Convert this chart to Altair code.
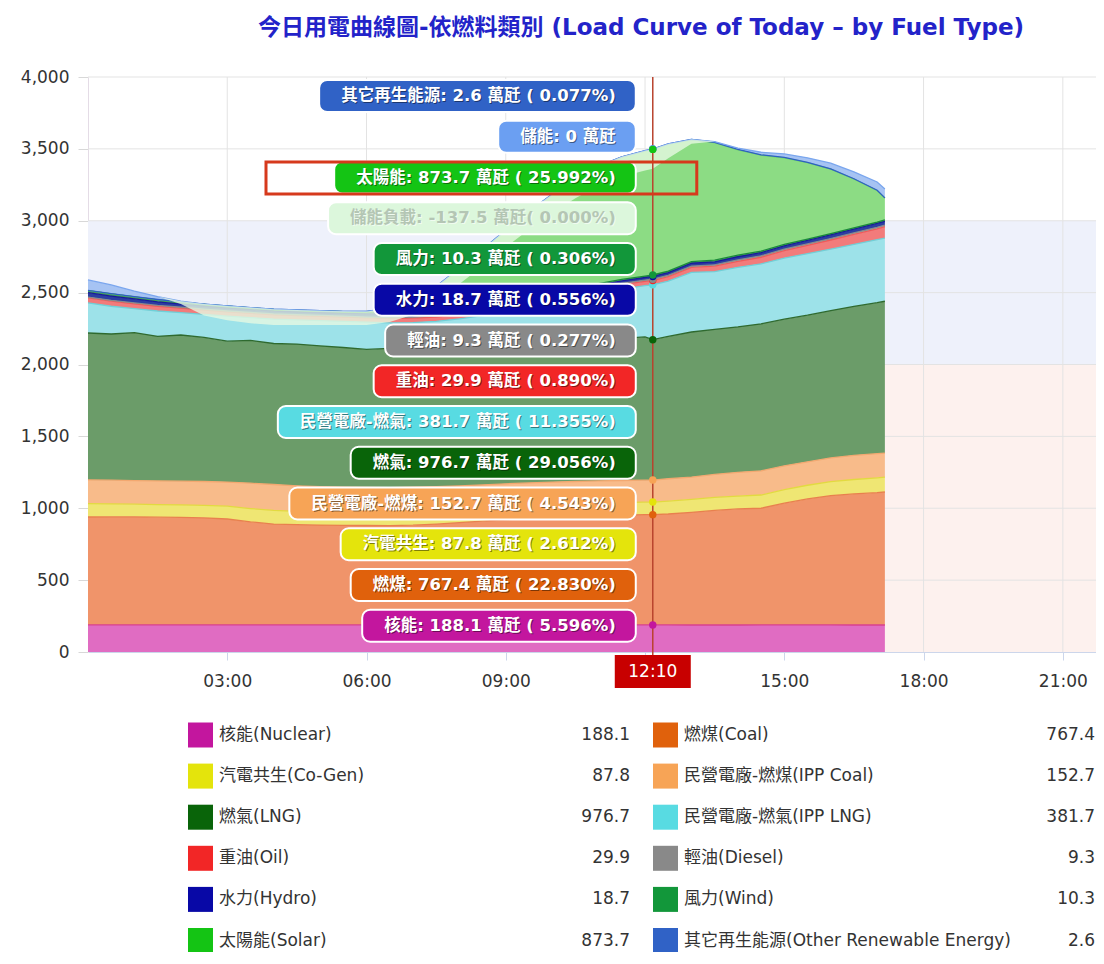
import altair as alt
import pandas as pd

# ---------------- data (萬瓩) ----------------
times = ["00:00", "00:30", "01:00", "01:30", "02:00", "02:30", "03:00", "03:30", "04:00", "04:30",
         "05:00", "05:30", "06:00", "06:30", "07:00", "07:30", "08:00", "08:30", "09:00", "09:30",
         "10:00", "10:30", "11:00", "11:30", "12:00", "12:10", "12:30", "13:00", "13:30", "14:00",
         "14:30", "15:00", "15:30", "16:00", "16:30", "17:00", "17:10"]
now_time = "12:10"

nuclear = [188.3, 188.3, 188.2, 188.2, 188.2, 188.2, 188.2, 188.1, 188.1, 188.1,
           188.1, 188.1, 188.1, 188.0, 188.0, 188.1, 188.1, 188.1, 188.1, 188.0,
           188.0, 188.1, 188.1, 188.1, 188.1, 188.1, 188.1, 188.0, 188.0, 188.0,
           188.1, 188.1, 188.1, 188.1, 188.0, 188.0, 188.0]
coal = [751, 752, 752, 750, 748, 745, 737, 717, 702, 698,
        695, 693, 692, 691, 694, 702, 712, 722, 732, 742,
        750, 756, 760, 764, 767, 767.4, 772, 784, 797, 807,
        812, 847, 877, 900, 912, 920, 925]
cogen = [93, 90, 88, 87, 87, 87, 89, 93, 95, 92,
         92, 91, 90, 91, 92, 92, 90, 90, 90, 88,
         87, 87, 88, 88, 87, 87.8, 90, 90, 90, 90,
         92, 95, 95, 97, 100, 104, 104]
ipp_coal = [165, 165, 164, 165, 165, 166, 168, 176, 180, 178,
            175, 175, 175, 174, 172, 168, 165, 162, 160, 158,
            157, 155, 154, 153, 153, 152.7, 155, 155, 160, 165,
            168, 165, 163, 165, 168, 168, 167]
lng = [1022, 1017, 1030, 1006, 1017, 1002, 980, 994, 981, 986,
       980, 971, 960, 968, 974, 980, 985, 988, 988, 989,
       988, 986, 986, 989, 997, 976.7, 990, 1009, 1010, 1012,
       1023, 1020, 1020, 1025, 1037, 1050, 1056]
ipp_lng = [209, 193, 166, 176, 155, 160, 174, 158, 170, 168,
           175, 182, 189, 178, 172, 170, 178, 190, 207, 230,
           255, 288, 319, 343, 356, 381.7, 385, 415, 401, 414,
           417, 425, 428, 427, 430, 438, 439]
oil = [35, 35, 34, 33, 32, 31, 30, 30, 30, 30,
       30, 30, 30, 30, 30, 30, 30, 30, 30, 30,
       30, 30, 30, 30, 30, 29.9, 31, 34, 38, 42,
       46, 52, 58, 64, 70, 76, 80]
diesel = [6, 6, 6, 6, 6, 6, 6, 6, 6, 6,
          6, 6, 6, 7, 8, 9, 9, 9, 9, 9,
          9, 9, 9, 9, 9, 9.3, 9.3, 9.3, 9.5, 9.5,
          9.6, 9.8, 10, 10, 10.2, 10.5, 10.5]
hydro = [30, 30, 28, 25, 22, 20, 20, 19, 19, 19,
         19, 20, 22, 24, 22, 20, 19, 18, 18, 18,
         18, 18, 18, 18, 18, 18.7, 19, 20, 21, 22,
         22, 23, 24, 25, 26, 27, 27]
wind = [15, 15, 14, 14, 13, 13, 13, 13, 12, 12,
        12, 12, 12, 12, 11, 11, 11, 11, 11, 10,
        10, 10, 10, 10, 10, 10.3, 10.5, 11, 11, 10.8,
        10.5, 10, 9.8, 9.5, 9.2, 9, 9]
solar = [0, 0, 0, 0, 0, 0, 0, 0, 0, 0,
         0, 0, 3, 25, 80, 170, 280, 390, 500, 600,
         690, 760, 815, 850, 870, 873.7, 882, 848, 818, 733,
         668, 603, 531, 448, 340, 220, 152]
other = [2.0, 2.0, 2.0, 2.0, 2.0, 2.0, 2.0, 2.0, 2.0, 2.0,
         2.0, 2.0, 2.1, 2.2, 2.3, 2.4, 2.5, 2.5, 2.5, 2.6,
         2.6, 2.6, 2.6, 2.6, 2.6, 2.6, 2.6, 2.5, 2.5, 2.4,
         2.4, 2.3, 2.2, 2.0, 1.8, 1.5, 1.5]
storage = [72, 60, 38, 20, 5, 0, 0, 0, 0, 0,
           0, 0, 0, 0, 0, 0, 0, 0, 0, 0,
           0, 0, 0, 0, 0, 0, 0, 0, 5, 10,
           18, 25, 32, 40, 48, 58, 62]
storage_load = [0, 0, 0, 0, -20, -80, -100, -110, -110, -105,
                -100, -95, -95, -95, -100, -105, -110, -115, -120, -125,
                -130, -133, -135, -137, -138, -137.5, -100, -30, 0, 0,
                0, 0, 0, 0, 0, 0, 0]

stack_keys = ["nuclear", "coal", "cogen", "ipp_coal", "lng", "ipp_lng", "oil", "diesel",
              "hydro", "wind", "solar", "other", "storage"]
series = {"nuclear": nuclear, "coal": coal, "cogen": cogen, "ipp_coal": ipp_coal, "lng": lng,
          "ipp_lng": ipp_lng, "oil": oil, "diesel": diesel, "hydro": hydro, "wind": wind,
          "solar": solar, "other": other, "storage": storage}

legend_keys = ["nuclear", "coal", "cogen", "ipp_coal", "lng", "ipp_lng", "oil", "diesel",
               "hydro", "wind", "solar", "other"]
legend_names = ["核能(Nuclear)", "燃煤(Coal)", "汽電共生(Co-Gen)", "民營電廠-燃煤(IPP Coal)",
                "燃氣(LNG)", "民營電廠-燃氣(IPP LNG)", "重油(Oil)", "輕油(Diesel)",
                "水力(Hydro)", "風力(Wind)", "太陽能(Solar)", "其它再生能源(Other Renewable Energy)"]

tip_keys = ["other", "storage", "solar", "load", "wind", "hydro", "diesel", "oil",
            "ipp_lng", "lng", "ipp_coal", "cogen", "coal", "nuclear"]
tip_names = {"other": "其它再生能源", "storage": "儲能", "solar": "太陽能", "load": "儲能負載",
             "wind": "風力", "hydro": "水力", "diesel": "輕油", "oil": "重油",
             "ipp_lng": "民營電廠-燃氣", "lng": "燃氣", "ipp_coal": "民營電廠-燃煤",
             "cogen": "汽電共生", "coal": "燃煤", "nuclear": "核能"}

title_text = "今日用電曲線圖-依燃料類別 (Load Curve of Today – by Fuel Type)"

# ---------------- styles ----------------
fill_colors = {"nuclear": "#e06cc2", "coal": "#f0946a", "cogen": "#efe673", "ipp_coal": "#f8bb8a",
               "lng": "#6b9c69", "ipp_lng": "#9de2e9", "oil": "#f27b7b", "diesel": "#a5a5a5",
               "hydro": "#2c3ea2", "wind": "#3f9b58", "solar": "#8cdc84", "other": "#4f78cd",
               "storage": "#a6c3f3"}
line_colors = {"nuclear": "#d8408e", "coal": "#e8804e", "cogen": "#e2da40", "ipp_coal": "#f3a870",
               "lng": "#2f6a2f", "ipp_lng": "#6fd0d8", "oil": "#ee5a5a", "diesel": "#8a8a8a",
               "hydro": "#1a1a9a", "wind": "#1a8a3a", "solar": "#6cd06a", "other": "#2f5fc4",
               "storage": "#7aa6ee"}
solid_colors = {"nuclear": "#c3169e", "coal": "#e0610c", "cogen": "#e4e40c", "ipp_coal": "#f7a456",
                "lng": "#096409", "ipp_lng": "#58dbe2", "oil": "#f22626", "diesel": "#898989",
                "hydro": "#0808a6", "wind": "#12973a", "solar": "#14c414", "other": "#3062c6",
                "storage": "#6b9ff2", "load": "#dcf7dc"}

FONT = "DejaVu Sans, Noto Sans CJK TC, sans-serif"
W, H = 1008, 575
YMAX = 4000
PXH = 46.42            # pixels per hour
XMAX = W / PXH
PYV = H / YMAX


def hours(s):
    h, m = s.split(":")
    return int(h) + int(m) / 60.0


def tx(px):
    return px / PXH


def vy(py):
    return YMAX - py / PYV


def fmt(v):
    return f"{v:g}"


def est_w(s, size):
    w = 0.0
    for ch in s:
        if ord(ch) > 0x2E80:
            w += size * 1.0
        elif ch.isdigit():
            w += size * 0.696
        elif ch == " ":
            w += size * 0.348
        elif ch == ".":
            w += size * 0.38
        elif ch == ":":
            w += size * 0.40
        elif ch in "()":
            w += size * 0.457
        elif ch == "%":
            w += size * 1.002
        elif ch == "-":
            w += size * 0.415
        else:
            w += size * 0.65
    return w


hrs = [hours(t) for t in times]
inow = times.index(now_time)
t_now = hrs[inow]
x_now = t_now * PXH

xs = alt.Scale(domain=[0, XMAX], nice=False, zero=False)
ys = alt.Scale(domain=[0, YMAX], nice=False, zero=False)

xaxis = alt.Axis(values=[3, 6, 9, 12, 15, 18, 21],
                 labelExpr="datum.value == 12 ? '' : ((datum.value < 10 ? '0' : '') + datum.value + ':00')",
                 grid=False, tickSize=8, tickColor="#ccd6eb", domainColor="#ccd6eb",
                 labelFontSize=17, labelFont="DejaVu Sans", labelColor="#333333",
                 labelPadding=13, title=None)
yaxis = alt.Axis(values=list(range(0, 4001, 500)), format=",.0f", grid=False, tickSize=10,
                 tickColor="#d8d8d8", domainColor="#e4dce6", labelFontSize=17,
                 labelFont="DejaVu Sans", labelColor="#333333", labelPadding=9, title=None)

# ---------------- tables ----------------
rows = []
cum = [0.0] * len(times)
tops_now = {}
for k, key in enumerate(stack_keys):
    vals = series[key]
    for i, t in enumerate(hrs):
        lo = cum[i]
        hi = lo + vals[i]
        rows.append(dict(t=t, key=key, k=k, lo=lo, hi=hi,
                         fill=fill_colors[key], line=line_colors[key]))
        cum[i] = hi
    tops_now[key] = cum[inow]
area_df = pd.DataFrame(rows)
overlay_df = pd.DataFrame({"t": hrs, "hi": cum,
                           "lo": [c + l for c, l in zip(cum, storage_load)]})

dot_keys = ["nuclear", "coal", "cogen", "ipp_coal", "lng", "ipp_lng", "oil", "diesel",
            "hydro", "wind", "other", "storage", "solar"]
dot_df = pd.DataFrame([dict(t=t_now, v=tops_now[k], c=solid_colors[k]) for k in dot_keys])

net = sum(series[k][inow] for k in stack_keys) + storage_load[inow]
TIP = 16.5
tip_rows = []
for i, key in enumerate(tip_keys):
    v = storage_load[inow] if key == "load" else series[key][inow]
    name = tip_names[key]
    if key == "storage":
        label = f"{name}: {fmt(v)} 萬瓩"
    elif key == "load":
        label = f"{name}: {fmt(v)} 萬瓩( {max(v, 0) / net * 100:.3f}%)"
    else:
        label = f"{name}: {fmt(v)} 萬瓩 ( {v / net * 100:.3f}%)"
    yc = 19 + 40.75 * i
    right = x_now - 17
    left = right - est_w(label, TIP) - 42
    tip_rows.append(dict(x1=tx(left), x2=tx(right), y1=vy(yc - 16), y2=vy(yc + 16),
                         xt=tx(right - 20), yt=vy(yc), xs_=tx(right - 19), ys_=vy(yc + 1),
                         label=label, c=solid_colors[key],
                         tc="#b4c6b4" if key == "load" else "#ffffff",
                         sc="rgba(255,255,255,0.6)" if key == "load" else "rgba(0,0,0,0.45)"))
tip_df = pd.DataFrame(tip_rows)

leg_rows = []
for idx, (key, name) in enumerate(zip(legend_keys, legend_names)):
    r, c = divmod(idx, 2)
    yc = 658 + 41.1 * r
    x0 = [100, 565][c]
    leg_rows.append(dict(sx1=tx(x0), sx2=tx(x0 + 25), sy1=vy(yc - 12.5), sy2=vy(yc + 12.5),
                         xt=tx(x0 + 31), xv=tx(x0 + 442), yt=vy(yc), name=name,
                         val=fmt(series[key][inow]), c=solid_colors[key]))
leg_df = pd.DataFrame(leg_rows)

band_df = pd.DataFrame({"y1": [2000, 0], "y2": [3000, 2000], "c": ["#eef1fb", "#fdf1ee"]})
hgrid_df = pd.DataFrame({"v": list(range(500, 4001, 500))})
vgrid_df = pd.DataFrame({"t": [3, 6, 9, 12, 15, 18, 21]})

# ---------------- layers ----------------
X = lambda f: alt.X(f, scale=xs, axis=xaxis)
Y = lambda f: alt.Y(f, scale=ys, axis=yaxis, stack=None)

bands = alt.Chart(band_df).mark_rect().encode(
    x=alt.value(0), x2=alt.value(W), y=Y("y1:Q"), y2="y2:Q",
    color=alt.Color("c:N", scale=None))
hgrid = alt.Chart(hgrid_df).mark_rule(color="#e3e3e3", strokeWidth=1).encode(
    y=Y("v:Q"), x=alt.value(0), x2=alt.value(W))
vgrid = alt.Chart(vgrid_df).mark_rule(color="#e3e3e3", strokeWidth=1).encode(
    x=X("t:Q"), y=alt.value(0), y2=alt.value(H))

areas = alt.Chart(area_df).mark_area(opacity=1).encode(
    x=X("t:Q"), y=Y("hi:Q"), y2="lo:Q",
    color=alt.Color("fill:N", scale=None), detail="key:N")
lines = alt.Chart(area_df).mark_line(strokeWidth=1.3).encode(
    x=X("t:Q"), y=Y("hi:Q"),
    color=alt.Color("line:N", scale=None), detail="key:N")
overlay = alt.Chart(overlay_df).mark_area(color="#e6f9e2", opacity=0.8).encode(
    x=X("t:Q"), y=Y("hi:Q"), y2="lo:Q")

now_rule = alt.Chart(pd.DataFrame({"t": [t_now]})).mark_rule(
    color="#b9432e", strokeWidth=1.5).encode(x=X("t:Q"), y=alt.value(0), y2=alt.value(H + 10))
dots = alt.Chart(dot_df).mark_circle(size=55, opacity=1).encode(
    x=X("t:Q"), y=Y("v:Q"), color=alt.Color("c:N", scale=None))

tip_box = alt.Chart(tip_df).mark_rect(cornerRadius=8, stroke="white", strokeWidth=2).encode(
    x=X("x1:Q"), x2="x2:Q", y=Y("y1:Q"), y2="y2:Q", color=alt.Color("c:N", scale=None))
tip_shadow = alt.Chart(tip_df).mark_text(align="right", baseline="middle", font=FONT,
                                         fontSize=TIP, fontWeight="bold").encode(
    x=X("xs_:Q"), y=Y("ys_:Q"), text="label:N", color=alt.Color("sc:N", scale=None))
tip_text = alt.Chart(tip_df).mark_text(align="right", baseline="middle", font=FONT,
                                       fontSize=TIP, fontWeight="bold").encode(
    x=X("xt:Q"), y=Y("yt:Q"), text="label:N", color=alt.Color("tc:N", scale=None))

hl_df = pd.DataFrame({"x1": [tx(178)], "x2": [tx(x_now + 44)], "y1": [vy(85)], "y2": [vy(117)]})
highlight = alt.Chart(hl_df).mark_rect(fillOpacity=0, stroke="#d6391c", strokeWidth=3).encode(
    x=X("x1:Q"), x2="x2:Q", y=Y("y1:Q"), y2="y2:Q")

tb_df = pd.DataFrame({"x1": [tx(x_now - 38)], "x2": [tx(x_now + 38)], "y1": [vy(578)],
                      "y2": [vy(611)], "xc": [t_now], "yc": [vy(594.5)], "label": [now_time]})
time_box = alt.Chart(tb_df).mark_rect(color="#c80000").encode(
    x=X("x1:Q"), x2="x2:Q", y=Y("y1:Q"), y2="y2:Q")
time_txt = alt.Chart(tb_df).mark_text(color="white", font="DejaVu Sans", fontSize=17,
                                      baseline="middle", align="center").encode(
    x=X("xc:Q"), y=Y("yc:Q"), text="label:N")

leg_sq = alt.Chart(leg_df).mark_rect().encode(
    x=X("sx1:Q"), x2="sx2:Q", y=Y("sy1:Q"), y2="sy2:Q", color=alt.Color("c:N", scale=None))
leg_name = alt.Chart(leg_df).mark_text(align="left", baseline="middle", font=FONT,
                                       fontSize=17, color="#333333").encode(
    x=X("xt:Q"), y=Y("yt:Q"), text="name:N")
leg_val = alt.Chart(leg_df).mark_text(align="right", baseline="middle", font=FONT,
                                      fontSize=17, color="#333333").encode(
    x=X("xv:Q"), y=Y("yt:Q"), text="val:N")

title_df = pd.DataFrame({"x": [tx(553)], "y": [vy(-49)], "label": [title_text]})
title = alt.Chart(title_df).mark_text(align="center", baseline="middle", font=FONT,
                                      fontSize=23, fontWeight="bold", color="#2323c9").encode(
    x=X("x:Q"), y=Y("y:Q"), text="label:N")

chart = alt.layer(
    bands, hgrid, vgrid, areas, lines, overlay, now_rule, dots,
    tip_box, tip_shadow, tip_text, highlight, time_box, time_txt,
    leg_sq, leg_name, leg_val, title
).properties(
    width=W, height=H,
    autosize=alt.AutoSizeParams(type="none"),
    padding={"left": 80, "top": 69, "right": 0, "bottom": 300},
    background="white"
).configure_view(stroke=None)

chart.save("out.html", embed_options={"renderer": "svg", "actions": False})
